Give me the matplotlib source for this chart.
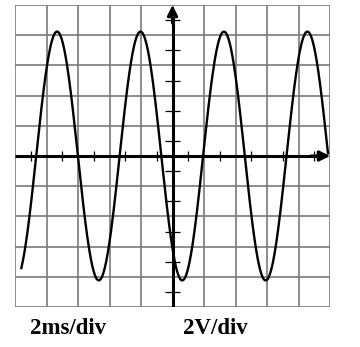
import numpy as np
import matplotlib
matplotlib.use("Agg")
import matplotlib.pyplot as plt

# Signal (units: divisions)
amplitude_div = 4.12
period_div = 2.649
first_peak_div = 1.335
trace_start_div = 0.20
trace_end_div = 9.935

# Screen settings / labels
n_div_x = 10
n_div_y = 10
time_label = "2ms/div"
volt_label = "2V/div"

fig = plt.figure(figsize=(3.60, 3.47), dpi=100)
ax = fig.add_axes([15/360, 40/347, 315/360, 302/347])
ax.set_xlim(0, n_div_x)
ax.set_ylim(-n_div_y/2, n_div_y/2)

grid_c = "#7a7a7a"
for xv in range(0, n_div_x + 1):
    ax.axvline(xv, color=grid_c, lw=1.2, zorder=1)
for yv in range(-n_div_y//2, n_div_y//2 + 1):
    ax.axhline(yv, color=grid_c, lw=1.2, zorder=1)
for s in ax.spines.values():
    s.set_visible(False)
ax.set_xticks([]); ax.set_yticks([])

# Central axes with arrows
cx = n_div_x / 2
ax.plot([cx, cx], [-n_div_y/2, n_div_y/2 - 0.3], color="black", lw=2.2, zorder=3, solid_capstyle="butt")
ax.plot([0, n_div_x - 0.3], [0, 0], color="black", lw=2.2, zorder=3, solid_capstyle="butt")
ax.annotate("", xy=(cx, n_div_y/2), xytext=(cx, n_div_y/2 - 0.6),
            arrowprops=dict(arrowstyle="-|>,head_length=0.6,head_width=0.3", color="black", lw=2.2,
                            shrinkA=0, shrinkB=0), zorder=4)
ax.annotate("", xy=(n_div_x, 0), xytext=(n_div_x - 0.6, 0),
            arrowprops=dict(arrowstyle="-|>,head_length=0.6,head_width=0.3", color="black", lw=2.2,
                            shrinkA=0, shrinkB=0), zorder=4)

# Half-division ticks on central axes
xt = np.arange(0.5, n_div_x, 1.0)
ax.vlines(xt, -0.17, 0.17, color="black", lw=0.9, zorder=3)
yt = np.arange(-n_div_y/2 + 0.5, n_div_y/2, 1.0)
ax.hlines(yt, cx - 0.25, cx + 0.25, color="black", lw=0.9, zorder=3)

# Trace
t = np.linspace(trace_start_div, trace_end_div, 800)
v = amplitude_div * np.cos(2*np.pi*(t - first_peak_div)/period_div)
ax.plot(t, v, color="black", lw=1.7, zorder=5)

fig.text(30/360, 1 - 328/347, time_label, family="Liberation Serif", weight="bold",
         fontsize=16.5, va="center", ha="left", color="black")
fig.text(183/360, 1 - 328/347, volt_label, family="Liberation Serif", weight="bold",
         fontsize=16.5, va="center", ha="left", color="black")

fig.savefig("out.png", dpi=100)
